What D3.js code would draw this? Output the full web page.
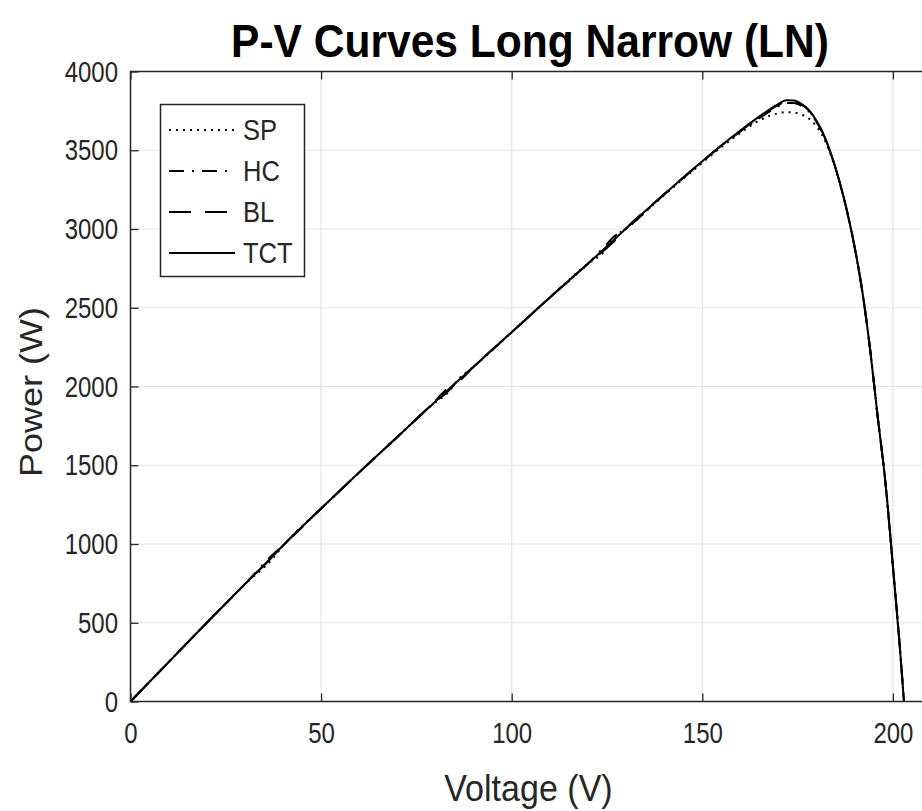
<!DOCTYPE html>
<html>
<head>
<meta charset="utf-8">
<script src="https://cdn.jsdelivr.net/npm/d3@7/dist/d3.min.js"></script>
<style>
  html, body { margin: 0; padding: 0; background: #fff; }
  svg { display: block; }
  text { font-family: "Liberation Sans", Arial, Helvetica, sans-serif; }
</style>
</head>
<body>
<svg id="chart" width="922" height="811"></svg>
<script>
// ---- Data ----
const voltage = [0,10,20,30,37,40,50,60,70,80,83,86,90,100,110,120,124,127,130,140,150,155,160,165,168,170,172,174,176,178,180,182,184,186,188,190,192,194,196,198,200,202,202.9];
const powerTCT = [0,250,500,745,915,990,1225,1455,1680,1905,1972,2038,2125,2345,2565,2780,2868,2935,3003,3220,3430,3530,3625,3715,3765,3795,3818,3816,3795,3755,3685,3590,3460,3300,3110,2880,2600,2240,1810,1400,860,290,0];
const powerSP  = [0,250,500,745,900,988,1225,1455,1680,1900,1955,2045,2125,2345,2565,2780,2850,2950,3003,3215,3420,3520,3610,3690,3722,3735,3742,3740,3728,3700,3650,3570,3450,3295,3108,2880,2600,2240,1810,1400,860,290,0];
const powerHC  = [0,250,500,745,925,990,1225,1455,1680,1910,1985,2030,2125,2345,2565,2780,2880,2955,3003,3220,3428,3528,3620,3705,3752,3780,3800,3800,3782,3745,3678,3585,3458,3300,3110,2880,2600,2240,1810,1400,860,290,0];
const powerBL  = [0,250,500,745,912,990,1225,1455,1680,1905,1962,2040,2125,2345,2565,2780,2860,2925,3003,3220,3430,3530,3622,3710,3760,3788,3808,3808,3790,3752,3683,3590,3460,3300,3110,2880,2600,2240,1810,1400,860,290,0];

const seriesNames = ["SP", "HC", "BL", "TCT"];
const seriesValues = [powerSP, powerHC, powerBL, powerTCT];
const seriesDash = ["2,5", "15,8,2,8", "22,14", null];

const xTicks = [0, 50, 100, 150, 200];
const yTicks = [0, 500, 1000, 1500, 2000, 2500, 3000, 3500, 4000];

const titleText = "P-V Curves Long Narrow (LN)";
const xLabel = "Voltage (V)";
const yLabel = "Power (W)";

// ---- Layout ----
const svg = d3.select("#chart");
const W = 922, H = 811;
const mLeft = 130.5, mTop = 71.5, mBottom = 701.5;
const pxPerV = 3.812;
const xMax = 210;
const mRight = mLeft + xMax * pxPerV;
const sx = 0.8; // horizontal condensation of the reference lettering

const x = d3.scaleLinear().domain([0, xMax]).range([mLeft, mRight]);
const y = d3.scaleLinear().domain([0, 4000]).range([mBottom, mTop]);

svg.append("rect").attr("width", W).attr("height", H).attr("fill", "#fff");

const axisColor = "#262626";
const gridColor = "#e3e3e3";

// Grid
const grid = svg.append("g");
grid.selectAll("line.gx").data(xTicks.filter(t => t > 0)).join("line")
  .attr("x1", d => x(d)).attr("x2", d => x(d))
  .attr("y1", mTop).attr("y2", mBottom)
  .attr("stroke", gridColor).attr("stroke-width", 1.2);
grid.selectAll("line.gy").data(yTicks.filter(t => t > 0 && t < 4000)).join("line")
  .attr("x1", mLeft).attr("x2", mRight)
  .attr("y1", d => y(d)).attr("y2", d => y(d))
  .attr("stroke", gridColor).attr("stroke-width", 1.2);

// Curves
const line = d3.line().x((d, i) => x(voltage[i])).y(d => y(d)).curve(d3.curveMonotoneX);
const curves = svg.append("g");
seriesValues.forEach((vals, k) => {
  curves.append("path")
    .attr("d", line(vals))
    .attr("fill", "none")
    .attr("stroke", "#000")
    .attr("stroke-width", 2)
    .attr("stroke-dasharray", seriesDash[k])
    .attr("stroke-linejoin", "round");
});

// Axes (box with inward ticks)
const tickLen = 8;
const xAxisB = d3.axisBottom(x).tickValues(xTicks).tickSize(-tickLen).tickPadding(20.5).tickFormat(d3.format("d"));
const xAxisT = d3.axisTop(x).tickValues(xTicks).tickSize(-tickLen).tickFormat("");
const yAxisL = d3.axisLeft(y).tickValues(yTicks).tickSize(-tickLen).tickPadding(12.5 / sx).tickFormat(d3.format("d"));
const yAxisR = d3.axisRight(y).tickValues(yTicks).tickSize(-tickLen).tickFormat("");

function styleAxis(g) {
  g.select(".domain").remove();
  g.selectAll(".tick line").attr("stroke", axisColor).attr("stroke-width", 1.3);
  g.selectAll(".tick text").attr("fill", axisColor).attr("font-size", 30)
    .attr("font-family", "Liberation Sans, Arial, sans-serif")
    .attr("transform", `scale(${sx},1)`);
}
svg.append("g").attr("transform", `translate(0,${mBottom})`).call(xAxisB).call(styleAxis);
svg.append("g").attr("transform", `translate(0,${mTop})`).call(xAxisT).call(styleAxis);
svg.append("g").attr("transform", `translate(${mLeft},0)`).call(yAxisL).call(styleAxis);
svg.append("g").attr("transform", `translate(${mRight},0)`).call(yAxisR).call(styleAxis);

svg.append("rect")
  .attr("x", mLeft).attr("y", mTop).attr("width", mRight - mLeft).attr("height", mBottom - mTop)
  .attr("fill", "none").attr("stroke", axisColor).attr("stroke-width", 1.5);

// Title and labels
svg.append("text").attr("transform", "translate(530,57) scale(0.925,1)").attr("text-anchor", "middle")
  .attr("font-size", 46).attr("font-weight", "bold").attr("fill", "#000")
  .text(titleText);
svg.append("text").attr("transform", "translate(528.5,801) scale(0.92,1)").attr("text-anchor", "middle")
  .attr("font-size", 37).attr("fill", axisColor).text(xLabel);
svg.append("text").attr("transform", "translate(42,392) rotate(-90) scale(1,0.85)").attr("text-anchor", "middle")
  .attr("font-size", 36).attr("fill", axisColor).text(yLabel);

// Legend
const lg = svg.append("g");
lg.append("rect").attr("x", 160.5).attr("y", 104.5).attr("width", 144).attr("height", 172)
  .attr("fill", "#fff").attr("stroke", axisColor).attr("stroke-width", 1.5);
const legendY = d3.scalePoint().domain(seriesNames).range([130, 253]);
seriesNames.forEach((name, k) => {
  const yy = legendY(name);
  lg.append("line").attr("x1", 169).attr("x2", 235).attr("y1", yy).attr("y2", yy)
    .attr("stroke", "#000").attr("stroke-width", 2).attr("stroke-dasharray", seriesDash[k]);
  lg.append("text").attr("transform", `translate(243,${yy}) scale(0.88,1)`).attr("dy", "0.36em")
    .attr("font-size", 29).attr("fill", axisColor).text(name);
});
</script>
</body>
</html>
